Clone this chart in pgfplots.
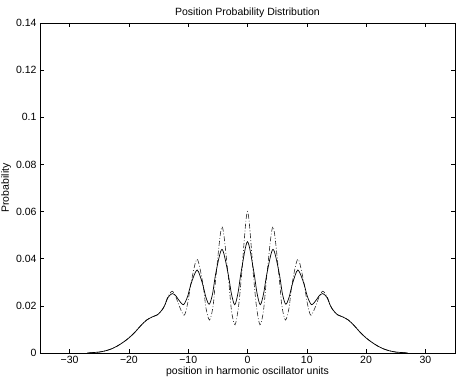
\documentclass[border=0pt]{standalone}
\usepackage{fontspec}
\setmainfont{Liberation Sans}
\usepackage{pgfplots}
\pgfplotsset{compat=1.18}

\begin{document}
\begin{tikzpicture}
\useasboundingbox (-40pt,-29pt) rectangle (421pt,353pt);
\begin{axis}[
  scale only axis,
  width=415pt,height=330pt,
  xmin=-35,xmax=35,ymin=0,ymax=0.14,
  xtick={-30,-20,...,30},
  xticklabels={−30,−20,−10,0,10,20,30},
  ytick={0,0.02,...,0.14},
  yticklabels={0,0.02,0.04,0.06,0.08,0.1,0.12,0.14},
  tick align=inside,
  major tick length=4pt,
  font=\fontsize{10.5}{12}\selectfont,
  title={Position Probability Distribution},
  xlabel={position in harmonic oscillator units},
  ylabel={Probability},
  title style={yshift=-4pt},
  xlabel style={yshift=4pt},
  ylabel style={yshift=-2pt},
  axis line style={line width=0.6pt},
  every tick/.style={black,line width=0.5pt},
]
\addplot[black!85,line width=0.6pt,
  dash pattern=on 5pt off 2pt on 0.8pt off 2pt,smooth] coordinates {
(-27,0) (-26,0.0002) (-25,0.0004) (-24,0.0009) (-23,0.0017) (-22,0.0029)
(-21,0.0045) (-20,0.0064) (-19,0.0088) (-18,0.0116) (-17,0.0140) (-16,0.0154)
(-15.2,0.0162) (-14.5,0.0180) (-14.0,0.0200) (-13.4,0.0240) (-12.7,0.0262)
(-12.1,0.0240) (-11.6,0.0205) (-10.7,0.0160) (-10.1,0.0210) (-9.5,0.0300)
(-8.5,0.0398) (-7.5,0.0290) (-7.0,0.0190) (-6.4,0.0140) (-5.8,0.0200)
(-5.3,0.0330) (-4.3,0.0536) (-3.3,0.0340) (-2.7,0.0180) (-2.1,0.0120)
(-1.5,0.0200) (-1.0,0.0330) (0,0.0600)
(1.0,0.0330) (1.5,0.0200) (2.1,0.0120) (2.7,0.0180) (3.3,0.0340)
(4.3,0.0536) (5.3,0.0330) (5.8,0.0200) (6.4,0.0140) (7.0,0.0190)
(7.5,0.0290) (8.5,0.0398) (9.5,0.0300) (10.1,0.0210) (10.7,0.0160)
(11.6,0.0205) (12.1,0.0240) (12.7,0.0262) (13.4,0.0240) (14.0,0.0200)
(14.5,0.0180) (15.2,0.0162) (16,0.0154) (17,0.0140) (18,0.0116)
(19,0.0088) (20,0.0064) (21,0.0045) (22,0.0029) (23,0.0017)
(24,0.0009) (25,0.0004) (26,0.0002) (27,0)
};
\addplot[black,line width=0.7pt,smooth] coordinates {
(-27,0) (-26,0.0002) (-25,0.0004) (-24,0.0009) (-23,0.0017) (-22,0.0029)
(-21,0.0045) (-20,0.0064) (-19,0.0088) (-18,0.0116) (-17,0.0140) (-16,0.0154)
(-15.2,0.0162) (-14.5,0.0180) (-14.0,0.0200) (-13.4,0.0236) (-12.7,0.0252)
(-12.1,0.0243) (-11.6,0.0225) (-10.8,0.0205) (-10.1,0.0240) (-9.5,0.0295)
(-8.5,0.0352) (-7.6,0.0295) (-7.0,0.0235) (-6.45,0.0207) (-5.9,0.0250)
(-5.3,0.0345) (-4.3,0.0440) (-3.3,0.0340) (-2.7,0.0250) (-2.15,0.0205)
(-1.6,0.0255) (-1.0,0.0355) (0,0.0472)
(1.0,0.0355) (1.6,0.0255) (2.15,0.0205) (2.7,0.0250) (3.3,0.0340)
(4.3,0.0440) (5.3,0.0345) (5.9,0.0250) (6.45,0.0207) (7.0,0.0235)
(7.6,0.0295) (8.5,0.0352) (9.5,0.0295) (10.1,0.0240) (10.8,0.0205)
(11.6,0.0225) (12.1,0.0243) (12.7,0.0252) (13.4,0.0236) (14.0,0.0200)
(14.5,0.0180) (15.2,0.0162) (16,0.0154) (17,0.0140) (18,0.0116)
(19,0.0088) (20,0.0064) (21,0.0045) (22,0.0029) (23,0.0017)
(24,0.0009) (25,0.0004) (26,0.0002) (27,0)
};
\end{axis}
\end{tikzpicture}
\end{document}
